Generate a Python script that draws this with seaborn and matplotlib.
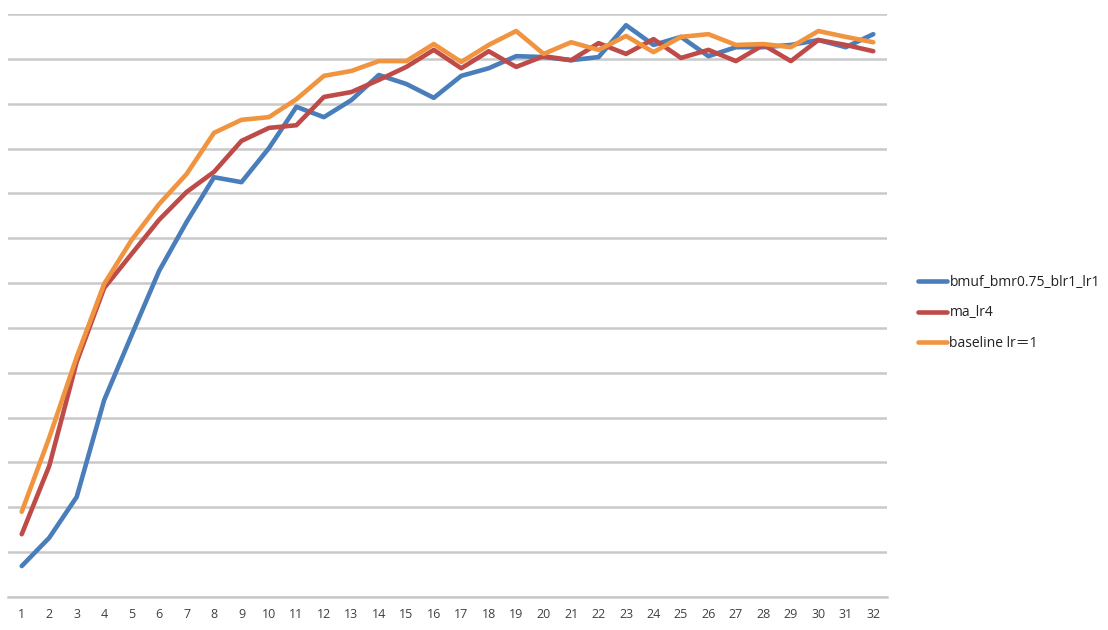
import pandas as pd
import matplotlib
matplotlib.use('Agg')
import matplotlib.pyplot as plt
import seaborn as sns

#%% Dados (em unidades de linhas de grade)

epochs = list(range(1, 33))

bmuf = [0.69, 1.32, 2.23, 4.39, 5.84, 7.27, 8.36, 9.36, 9.25, 10.01,
        10.93, 10.70, 11.08, 11.64, 11.44, 11.13, 11.62, 11.79, 12.06, 12.04,
        11.97, 12.04, 12.75, 12.31, 12.49, 12.06, 12.26, 12.26, 12.31, 12.42,
        12.26, 12.55]

ma_lr4 = [1.40, 2.92, 5.24, 6.89, 7.65, 8.41, 9.03, 9.48, 10.17, 10.46,
          10.52, 11.15, 11.26, 11.53, 11.82, 12.20, 11.79, 12.17, 11.82, 12.06,
          11.97, 12.35, 12.11, 12.44, 12.02, 12.20, 11.95, 12.31, 11.95, 12.42,
          12.31, 12.17]

baseline = [1.90, 3.55, 5.35, 6.98, 7.96, 8.76, 9.43, 10.35, 10.64, 10.70,
            11.10, 11.62, 11.73, 11.95, 11.95, 12.33, 11.93, 12.31, 12.62, 12.11,
            12.37, 12.20, 12.51, 12.15, 12.49, 12.55, 12.31, 12.33, 12.26, 12.62,
            12.49, 12.37]

series_names = ['bmuf_bmr0.75_blr1_lr1', 'ma_lr4', 'baseline lr\uff1d1']
colors = ['#4a7ebb', '#be4b48', '#f0943f']

#%% Montando o dataframe

df = pd.concat([
    pd.DataFrame({'epoch': epochs, 'valor': bmuf, 'serie': series_names[0]}),
    pd.DataFrame({'epoch': epochs, 'valor': ma_lr4, 'serie': series_names[1]}),
    pd.DataFrame({'epoch': epochs, 'valor': baseline, 'serie': series_names[2]}),
])

#%% Gráfico

sns.set_style('white')
plt.rcParams['font.family'] = ['Open Sans', 'DejaVu Sans', 'Noto Sans CJK SC']

fig = plt.figure(figsize=(11.08, 6.30), dpi=100)
ax = fig.add_axes([8/1108, 33/630, 879/1108, 583/630])

ax.set_axisbelow(True)
ax.set_yticks(range(0, 14))
ax.yaxis.grid(True, color='#c9c9c9', linewidth=1.8)

sns.lineplot(data=df, x='epoch', y='valor', hue='serie', palette=colors,
             linewidth=3.3, ax=ax, legend=True)

ax.set_xlim(0.5, 32.5)
ax.set_ylim(0, 13)
ax.set_xticks(epochs)
ax.set_xticklabels([str(e) for e in epochs])
ax.tick_params(axis='x', length=0, pad=8, labelsize=9, labelcolor='#404040')
ax.tick_params(axis='y', length=0, labelleft=False)
ax.set_xlabel('')
ax.set_ylabel('')

for side in ['top', 'right', 'left']:
    ax.spines[side].set_visible(False)
ax.spines['bottom'].set_color('#c9c9c9')
ax.spines['bottom'].set_linewidth(1.8)

handles, labels = ax.get_legend_handles_labels()
ax.legend(handles, labels, loc='center left',
          bbox_to_anchor=(905/1108, 1 - 313/630), bbox_transform=fig.transFigure,
          frameon=False, fontsize=10, handlelength=2.15, handletextpad=0.15,
          labelspacing=1.12, labelcolor='#222222')

plt.savefig('out.png', dpi=100)
